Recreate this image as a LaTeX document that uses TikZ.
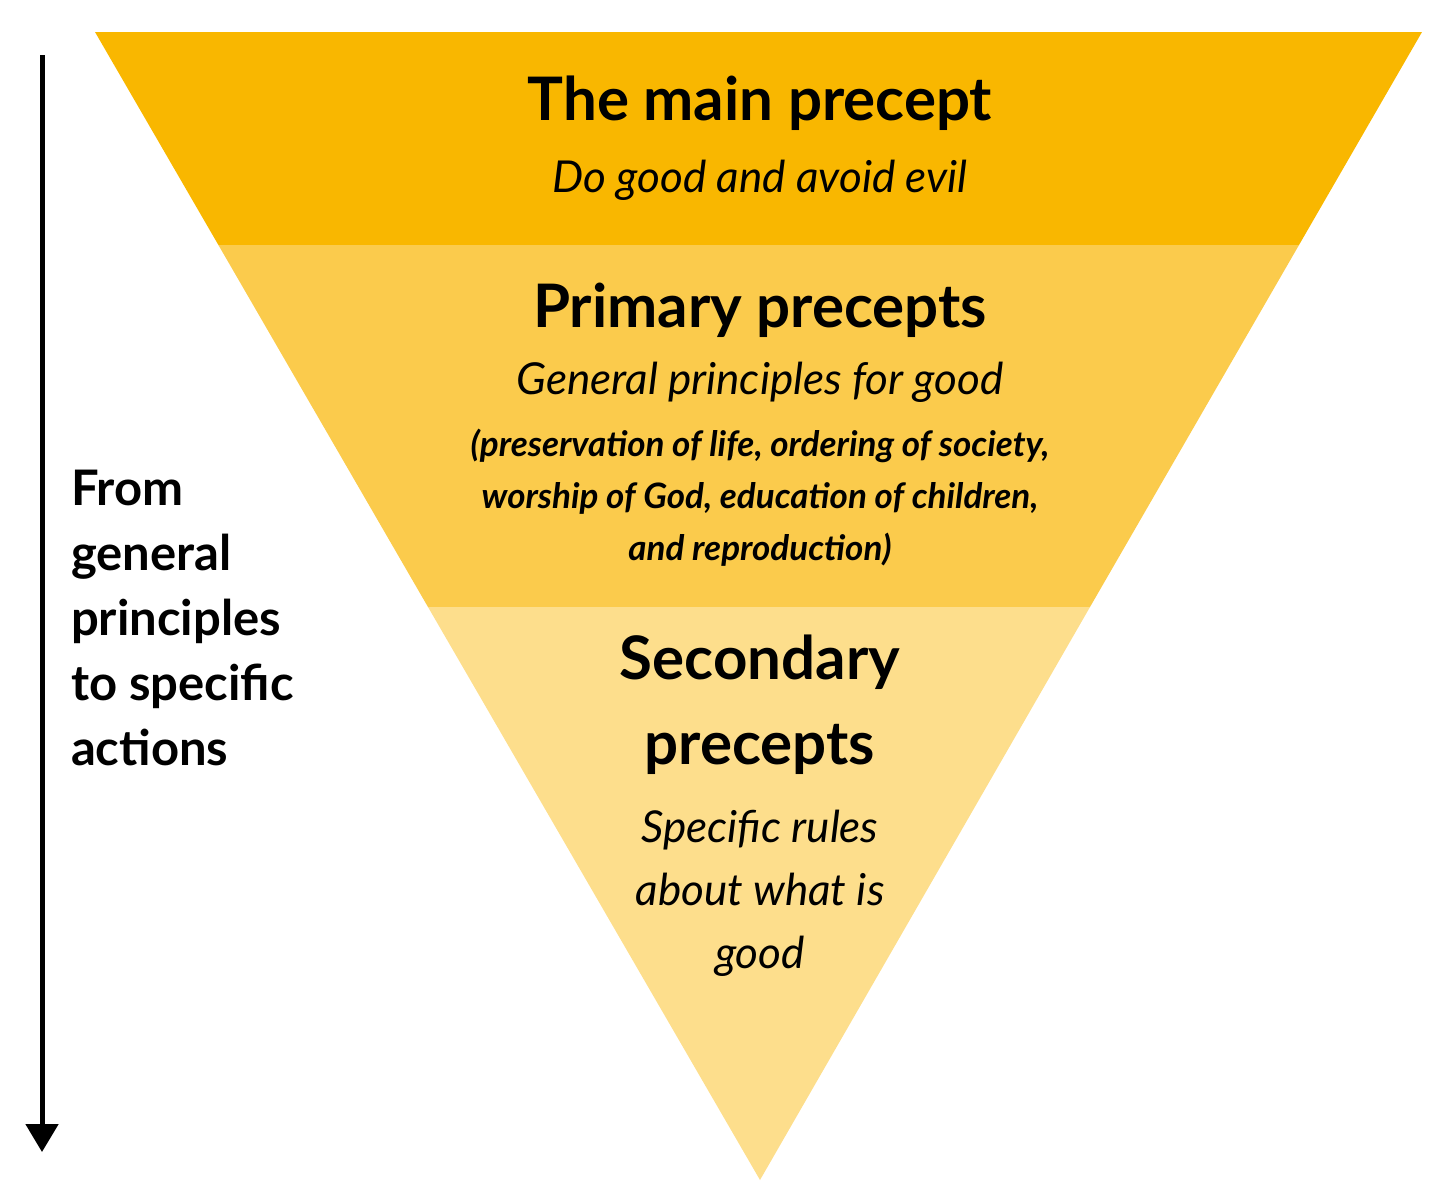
\documentclass[tikz,border=0pt]{standalone}
\usepackage{fontspec}
\setmainfont{Lato}
\usetikzlibrary{arrows.meta}
\definecolor{bandA}{HTML}{F9B700}
\definecolor{bandB}{HTML}{FBCB4C}
\definecolor{bandC}{HTML}{FDDE8C}
\tikzset{
  ttl/.style={font=\bfseries\fontsize{30}{32}\selectfont, align=center},
  sub/.style={font=\itshape\fontsize{22}{31.5}\selectfont, align=center},
  par/.style={font=\bfseries\itshape\fontsize{17.5}{26}\selectfont, align=center},
}
\begin{document}
\begin{tikzpicture}[x=0.5pt,y=-0.5pt]
\useasboundingbox (0,0) rectangle (1435,1200);
\fill[bandA] (95,32) -- (1422,32) -- (1299,245) -- (218.4,245) -- cycle;
\fill[bandB] (218.4,245) -- (1299,245) -- (1090,607) -- (428,607) -- cycle;
\fill[bandC] (428,607) -- (1090,607) -- (760,1180) -- cycle;
\node[ttl] (t1) at (760,103) {The main precept};
\node[sub] (s1) at (760,180) {Do good and avoid evil};
\node[ttl] (t2) at (760,310) {Primary precepts};
\node[sub] (s2) at (760,382) {General principles for good};
\node[par] (p2) at (760,498) {(preservation of life, ordering of society,\\worship of God, education of children,\\and reproduction)};
\node[ttl, font=\bfseries\fontsize{30}{42.5}\selectfont] (t3) at (760,705) {Secondary\\precepts};
\node[sub] (s3) at (760,893) {Specific rules\\about what is\\good};
\coordinate (a0) at (42,55);
\coordinate (a1) at (42,1152);
\draw[line width=2.5pt, -{Triangle[length=14pt,width=16pt]}] (a0) -- (a1);
\node[font=\bfseries\fontsize{24.5}{32.5}\selectfont, align=left, anchor=north west] (lbl) at (64,463) {From\\general\\principles\\to specific\\actions};
\end{tikzpicture}
\end{document}
